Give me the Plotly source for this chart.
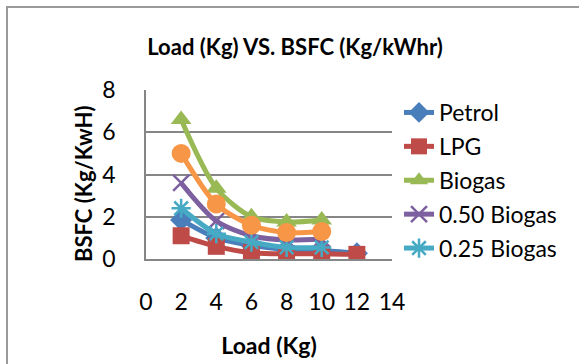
import plotly.graph_objects as go

# Data
load_long = [2, 4, 6, 8, 10, 12]
load_short = [2, 4, 6, 8, 10]
petrol = [1.85, 1.0, 0.65, 0.45, 0.4, 0.27]
lpg = [1.1, 0.6, 0.3, 0.25, 0.25, 0.22]
biogas = [6.6, 3.35, 2.0, 1.75, 1.85]
biogas_050 = [3.6, 1.8, 1.1, 0.9, 0.95]
biogas_025 = [2.4, 1.2, 0.8, 0.55, 0.55]
biogas_075 = [5.0, 2.6, 1.6, 1.25, 1.3]
x_ticks = [0, 2, 4, 6, 8, 10, 12, 14]
y_ticks = [0, 2, 4, 6, 8]

FONT = "Lato"
W, H = 579, 364
L, R, T, B = 146, 392, 90, 259

series = [
    ("Petrol", load_long, petrol, "#4A7EBB", dict(symbol="diamond", size=17), True),
    ("LPG", load_long, lpg, "#BE4B48", dict(symbol="square", size=17), True),
    ("Biogas", load_short, biogas, "#98B954", dict(symbol="triangle-up", size=18), True),
    ("0.50 Biogas", load_short, biogas_050, "#7D60A0",
     dict(symbol="x-thin", size=16, line=dict(width=2.5, color="#7D60A0")), True),
    ("0.25 Biogas", load_short, biogas_025, "#46AAC5",
     dict(symbol="asterisk", size=16, line=dict(width=2.5, color="#46AAC5")), True),
    ("0.75 Biogas", load_short, biogas_075, "#F79646", dict(symbol="circle", size=19), False),
]

fig = go.Figure()
for i, (name, xs, ys, color, marker, show) in enumerate(series):
    fig.add_trace(go.Scatter(
        x=xs, y=ys, name=name, mode="lines+markers",
        line=dict(color=color, width=5, shape="spline", smoothing=0.8),
        marker=dict(color=color, **marker),
        showlegend=show, legendgroup=f"g{i}",
    ))

fig.update_layout(
    width=W, height=H,
    margin=dict(l=L, r=W - R, t=T, b=H - B, autoexpand=False),
    paper_bgcolor="white", plot_bgcolor="white",
    font=dict(family=FONT, size=23, color="black"),
    title=dict(text="<b>Load (Kg) VS. BSFC (Kg/kWhr)</b>",
               font=dict(family=FONT, size=22, color="black"),
               x=295 / W, xanchor="center", y=1 - 47 / H, yanchor="middle"),
    legend=dict(x=(399 - L) / (R - L), xanchor="left",
                y=(B - 91) / (B - T), yanchor="top",
                font=dict(family=FONT, size=23, color="black"),
                tracegroupgap=1, bgcolor="rgba(0,0,0,0)", maxheight=320),
    showlegend=True,
)
fig.update_xaxes(
    range=[0, 14], tickvals=x_ticks, ticktext=[str(v) for v in x_ticks],
    showgrid=False, zeroline=False, showline=True, linecolor="#868686", linewidth=1.5,
    ticks="outside", ticklen=22, tickcolor="rgba(0,0,0,0)", automargin=False,
    title=dict(text="<b>Load (Kg)</b>", font=dict(family=FONT, size=23), standoff=24),
)
fig.update_yaxes(
    range=[0, 8], tickvals=y_ticks, ticktext=[str(v) for v in y_ticks],
    showgrid=True, gridcolor="#868686", gridwidth=1.5, zeroline=False,
    showline=True, linecolor="#868686", linewidth=1.5, automargin=False,
    ticks="outside", ticklen=24, tickcolor="rgba(0,0,0,0)",
)
# y-axis title placed like the reference (slightly below plot centre)
fig.add_annotation(text="<b>BSFC (Kg/KwH)</b>", textangle=-90, showarrow=False,
                   xref="paper", yref="paper",
                   x=(83 - L) / (R - L), y=(B - 184) / (B - T),
                   xanchor="center", yanchor="middle",
                   font=dict(family=FONT, size=22, color="black"))
# outer chart border
fig.add_shape(type="rect", xref="paper", yref="paper",
              x0=(7 - L) / (R - L), x1=(W + 20 - L) / (R - L),
              y0=(B - (H + 20)) / (B - T), y1=(B - 7) / (B - T),
              line=dict(color="#9A9A9A", width=2), fillcolor="rgba(0,0,0,0)", layer="below")

fig.write_html("out.html")
